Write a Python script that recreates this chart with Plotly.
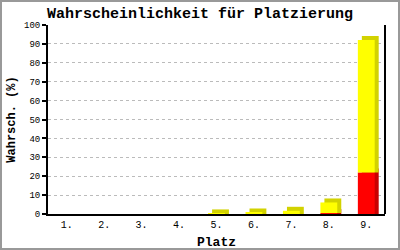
import plotly.graph_objects as go

places = ["1.", "2.", "3.", "4.", "5.", "6.", "7.", "8.", "9."]
red_vals = [0, 0, 0, 0, 0, 0, 0, 0.5, 22]
yellow_vals = [0, 0, 0, 0, 0.3, 0.8, 1.7, 5.6, 70]

W, H = 400, 250
ML, MR, MT, MB = 48, 15, 25, 36
PW, PH = W - ML - MR, H - MT - MB
YMAX = 100
n = len(places)
xs = list(range(n))
width = 0.45
depth_x = 4 / (PW / n)          # 4px in category units
depth_y = 4 / PH * YMAX         # 4px in value units

yellow_base = red_vals
fig = go.Figure()
# depth (side/top) faces
fig.add_trace(go.Bar(x=xs, y=[v + depth_y if v > 0 else 0 for v in red_vals], base=[0] * n,
                     width=width, offset=-width / 2 + depth_x,
                     marker=dict(color="#c80000", line=dict(width=0)), hoverinfo="skip"))
fig.add_trace(go.Bar(x=xs, y=[v + depth_y if v > 0 else 0 for v in yellow_vals], base=yellow_base,
                     width=width, offset=-width / 2 + depth_x,
                     marker=dict(color="#d2d200", line=dict(width=0)), hoverinfo="skip"))
# front faces
fig.add_trace(go.Bar(x=xs, y=red_vals, base=[0] * n, width=width, offset=-width / 2,
                     marker=dict(color="#ff0000", line=dict(width=0))))
fig.add_trace(go.Bar(x=xs, y=yellow_vals, base=yellow_base, width=width, offset=-width / 2,
                     marker=dict(color="#ffff00", line=dict(width=0))))

mono = "Liberation Mono, DejaVu Sans Mono, monospace"
fig.update_layout(
    width=W, height=H, barmode="overlay", showlegend=False,
    margin=dict(l=ML, r=MR, t=MT, b=MB, autoexpand=False),
    paper_bgcolor="white", plot_bgcolor="white",
    font=dict(family=mono, color="black", size=10),
    title=dict(text="<b>Wahrscheinlichkeit für Platzierung</b>", x=0.5, xanchor="center",
               y=1 - 13 / H, yanchor="middle", font=dict(family=mono, size=15, color="black"),
               automargin=False),
    xaxis=dict(range=[-0.5, n - 0.5], tickvals=xs, ticktext=places, showgrid=False,
               showline=True, linecolor="black", linewidth=2, ticks="", zeroline=False,
               automargin=False, tickfont=dict(family=mono, size=10),
               title=dict(text="<b>Platz</b>", font=dict(family=mono, size=13), standoff=8)),
    yaxis=dict(range=[0, YMAX], dtick=10, showgrid=True, gridcolor="#bbbbbb", griddash="dot",
               gridwidth=1, showline=True, linecolor="black", linewidth=2, mirror=False,
               ticks="outside", ticklen=4, tickcolor="black", tickwidth=2, zeroline=False,
               automargin=False, tickfont=dict(family=mono, size=9),
               title=dict(text="<b>Wahrsch. (%)</b>", font=dict(family=mono, size=12), standoff=6)),
)
# right vertical axis line
fig.add_shape(type="line", xref="paper", yref="paper", x0=1, x1=1, y0=0, y1=1,
              line=dict(color="black", width=2))
# outer grey frame
fig.add_shape(type="rect", xref="paper", yref="paper",
              x0=-ML / PW + 1 / PW, x1=1 + (MR - 1) / PW, y0=-MB / PH + 1 / PH, y1=1 + (MT - 1) / PH,
              line=dict(color="#999999", width=2), layer="below")
fig.write_html("out.html")
